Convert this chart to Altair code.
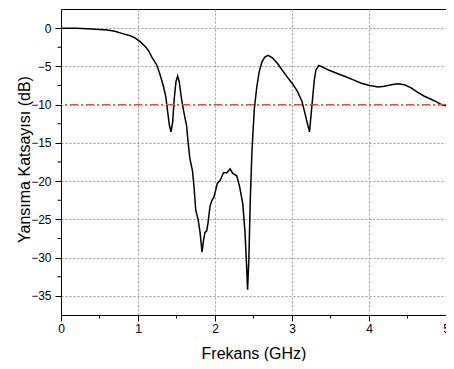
import altair as alt
import pandas as pd

freq = [0, 0.2, 0.4, 0.6, 0.7, 0.8, 0.9, 0.965, 1.03, 1.094,
        1.14, 1.18, 1.245, 1.287, 1.33, 1.36, 1.386, 1.408, 1.429, 1.45,
        1.47, 1.493, 1.515, 1.535, 1.566, 1.596, 1.63, 1.65, 1.673, 1.708,
        1.728, 1.75, 1.78, 1.806, 1.832, 1.853, 1.87, 1.892, 1.909, 1.935,
        1.96, 1.986, 2.008, 2.03, 2.068, 2.11, 2.153, 2.197, 2.23, 2.282,
        2.317, 2.36, 2.39, 2.41, 2.423, 2.44, 2.458, 2.48, 2.51, 2.544,
        2.574, 2.61, 2.647, 2.69, 2.746, 2.81, 2.874, 2.94, 3.0, 3.067,
        3.13, 3.175, 3.205, 3.227, 3.247, 3.27, 3.29, 3.31, 3.346, 3.39,
        3.475, 3.58, 3.69, 3.797, 3.9, 4.01, 4.118, 4.2, 4.29, 4.376,
        4.46, 4.547, 4.633, 4.72, 4.805, 4.878, 4.93, 5.0]

refl = [0, -0.03, -0.1, -0.25, -0.42, -0.72, -1.0, -1.3, -1.8, -2.4,
        -3.0, -3.78, -4.85, -6.1, -7.6, -8.9, -11.0, -12.7, -13.56, -12.3,
        -9.3, -7.0, -6.25, -7.0, -9.3, -11.0, -12.7, -14.8, -17.0, -18.7,
        -20.8, -23.8, -25.0, -26.7, -29.3, -27.6, -26.7, -26.5, -25.5, -23.3,
        -22.5, -22.1, -21.2, -20.3, -19.9, -18.9, -18.9, -18.4, -19.0, -19.3,
        -20.6, -22.9, -26.7, -31.0, -34.2, -30.1, -22.5, -16.1, -10.6, -7.6,
        -5.7, -4.4, -3.78, -3.57, -3.9, -4.6, -5.5, -6.4, -7.2, -8.2,
        -9.6, -11.4, -12.7, -13.56, -11.4, -8.9, -6.76, -5.5, -4.89, -5.05,
        -5.48, -5.9, -6.33, -6.76, -7.2, -7.5, -7.7, -7.6, -7.4, -7.27,
        -7.4, -7.8, -8.4, -8.9, -9.3, -9.65, -9.95, -10.15]

x_major = [0, 1, 2, 3, 4, 5]
y_major = [0, -5, -10, -15, -20, -25, -30, -35]
x_minor = [0.5, 1.5, 2.5, 3.5, 4.5]
y_minor = [-2.5, -7.5, -12.5, -17.5, -22.5, -27.5, -32.5]
threshold = [-10]

W, H = 385, 306
FONT = "Liberation Sans"

df = pd.DataFrame({"f": freq, "s": refl})
xscale = alt.Scale(domain=[0, 5], nice=False, zero=False)
yscale = alt.Scale(domain=[-37.5, 2.5], nice=False, zero=False)

axis_common = dict(
    domainColor="black", domainWidth=1, tickColor="black", tickSize=6, tickWidth=1,
    gridColor="#9a9a9a", gridDash=[2, 2], gridWidth=1,
    labelFont=FONT, labelFontSize=12, labelColor="black",
    titleFont=FONT, titleFontSize=16, titleFontWeight="normal", titleColor="black",
    labelFlush=False, labelOverlap=False,
)

line = alt.Chart(df).mark_line(color="black", strokeWidth=1.5, clip=True).encode(
    x=alt.X("f:Q", scale=xscale, axis=alt.Axis(
        title="Frekans (GHz)", values=x_major, format="d", labelPadding=2,
        titleX=W / 2, titleY=38, titleAlign="center", titleBaseline="middle",
        **axis_common)),
    y=alt.Y("s:Q", scale=yscale, axis=alt.Axis(
        title="Yansıma Katsayısı (dB)", values=y_major, format="d", labelPadding=4,
        titleX=-37, titleY=150, titleAlign="center", titleBaseline="middle", titleAngle=270,
        **axis_common)),
)

thr = alt.Chart(pd.DataFrame({"t": threshold})).mark_rule(
    color="#e04848", strokeWidth=1.3, strokeDash=[8, 3, 2, 3]
).encode(y=alt.Y("t:Q", scale=yscale, axis=None))

xmin = alt.Chart(pd.DataFrame({"m": x_minor})).mark_rule(color="black", strokeWidth=1).encode(
    x=alt.X("m:Q", scale=xscale, axis=None),
    y=alt.value(H), y2=alt.value(H + 3.5))

ymin = alt.Chart(pd.DataFrame({"m": y_minor})).mark_rule(color="black", strokeWidth=1).encode(
    y=alt.Y("m:Q", scale=yscale, axis=None),
    x=alt.value(0), x2=alt.value(-3.5))

chart = alt.layer(line, thr, xmin, ymin).resolve_axis(
    x="independent", y="independent"
).properties(
    width=W, height=H,
    autosize=alt.AutoSizeParams(type="none"),
    padding={"left": 53, "top": 1, "right": 0, "bottom": 46},
).configure_view(stroke="black", strokeWidth=1)

chart.save("out.html", embed_options={"renderer": "svg", "actions": False})
